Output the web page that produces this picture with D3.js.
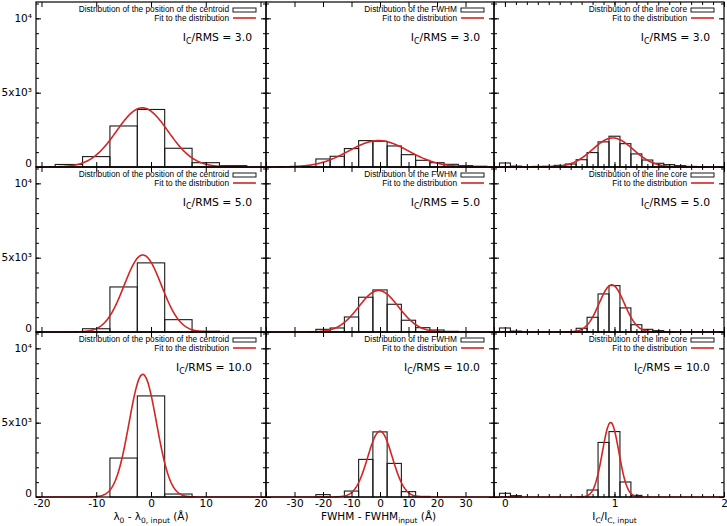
<!DOCTYPE html>
<html>
<head>
<meta charset="utf-8">
<script src="https://cdn.jsdelivr.net/npm/d3@7"></script>
<style>
  body { margin: 0; background: #fff; }
  text { font-family: "DejaVu Sans", sans-serif; fill: #000; }
  .legend { font-family: "Liberation Sans", Arial, sans-serif; font-size: 8.3px; }
</style>
</head>
<body>
<div id="chart"></div>
<script>

// bin centres of the three histograms
var centroidBins = [-15, -10, -5, 0, 5, 10, 15];
var fwhmBins = [-30, -25, -20, -15, -10, -5, 0, 5, 10, 15, 20, 25, 30, 35];
var coreBins = [0.0, 0.1, 0.2, 0.3, 0.4, 0.5, 0.6, 0.7, 0.8, 0.9, 1.0, 1.1, 1.2, 1.3, 1.4, 1.5, 1.6, 1.7, 1.8];

// counts per bin, one row for each I_C/RMS value
var centroidCounts = [
  [170, 700, 2760, 3870, 1260, 290, 90],
  [0, 220, 3030, 4650, 830, 50, 0],
  [0, 0, 2620, 6800, 200, 0, 0]
];
var fwhmCounts = [
  [0, 30, 540, 720, 1240, 1775, 1730, 1415, 830, 450, 290, 180, 90, 50],
  [0, 0, 180, 270, 1010, 2340, 2830, 1865, 790, 290, 135, 45, 0, 0],
  [0, 0, 160, 0, 400, 2530, 4380, 2260, 360, 40, 0, 0, 0, 0]
];
var coreCounts = [
  [270, 60, 20, 40, 50, 110, 200, 490, 970, 1690, 2070, 1570, 880, 470, 250, 160, 90, 40, 20],
  [270, 60, 0, 0, 0, 0, 20, 250, 990, 2560, 3120, 1620, 490, 180, 90, 20, 0, 0, 0],
  [250, 90, 0, 0, 0, 0, 0, 20, 470, 3670, 4400, 1010, 110, 0, 0, 0, 0, 0, 0]
];

// gaussian fits: [amplitude, centre, sigma]
var centroidFit = [[3980, -1.6, 4.7], [5180, -1.5, 3.4], [8250, -1.5, 2.5]];
var fwhmFit = [[1775, -0.5, 10.5], [2790, -0.5, 7.0], [4430, 0, 4.3]];
var coreFit = [[1955, 0.985, 0.185], [3170, 0.975, 0.115], [5010, 0.965, 0.075]];

// signal to noise of each row
var snrLabels = ["3.0", "5.0", "10.0"];

// tick labels
var centroidTicks = [-20, -10, 0, 10, 20];
var fwhmTicks = [-30, -20, -10, 0, 10, 20, 30];
var coreTicks = [0, 1, 2];
var yTickLabels = ["0", "5x10³", "10⁴"];
var yTickValues = [0, 5000, 10000];

// layout of the 3x3 grid
var width = 727, height = 526;
var colLeft = [36, 266, 494], colWidth = [230, 228, 230];
var rowTop = [2, 167, 332], rowHeight = 165;
var red = "#d42424";

var columns = [
  {bins: centroidBins, counts: centroidCounts, fit: centroidFit, binWidth: 5,
   domain: [-21, 21], ticks: d3.range(-20, 21, 10), minor: [], labels: centroidTicks,
   legend: "Distribution of the position of the centroid"},
  {bins: fwhmBins, counts: fwhmCounts, fit: fwhmFit, binWidth: 5,
   domain: [-40, 40], ticks: d3.range(-40, 41, 10), minor: [], labels: fwhmTicks,
   legend: "Distribution of the FWHM"},
  {bins: coreBins, counts: coreCounts, fit: coreFit, binWidth: 0.1,
   domain: [-0.1, 2], ticks: coreTicks, minor: d3.range(-1, 21).map(function(d) { return d / 10; }),
   labels: coreTicks, legend: "Distribution of the line core"}
];

var svg = d3.select("#chart")
    .append("svg")
    .attr("width", width)
    .attr("height", height);

for (var r = 0; r < 3; r++) {
  for (var c = 0; c < 3; c++) {
    drawPanel(columns[c], r, c);
  }
}

// axis titles under the bottom row
var titleY = 520;
var xs0 = d3.scaleLinear().domain(columns[0].domain).range([colLeft[0], colLeft[0] + colWidth[0]]);
var xs1 = d3.scaleLinear().domain(columns[1].domain).range([colLeft[1], colLeft[1] + colWidth[1]]);
var xs2 = d3.scaleLinear().domain(columns[2].domain).range([colLeft[2], colLeft[2] + colWidth[2]]);

var t0 = svg.append("text").attr("x", xs0(0)).attr("y", titleY).attr("text-anchor", "middle").attr("font-size", "10.5px");
t0.append("tspan").text("λ");
t0.append("tspan").attr("dy", 3).attr("font-size", "7.5px").text("0");
t0.append("tspan").attr("dy", -3).text(" - λ");
t0.append("tspan").attr("dy", 3).attr("font-size", "7.5px").text("0, input");
t0.append("tspan").attr("dy", -3).text(" (Å)");

var t1 = svg.append("text").attr("x", xs1(-0.5)).attr("y", titleY).attr("text-anchor", "middle").attr("font-size", "10.5px");
t1.append("tspan").text("FWHM - FWHM");
t1.append("tspan").attr("dy", 3).attr("font-size", "7.5px").text("input");
t1.append("tspan").attr("dy", -3).text(" (Å)");

var t2 = svg.append("text").attr("x", xs2(1)).attr("y", titleY).attr("text-anchor", "middle").attr("font-size", "10.5px");
t2.append("tspan").text("I");
t2.append("tspan").attr("dy", 3).attr("font-size", "7.5px").text("C");
t2.append("tspan").attr("dy", -3).text("/I");
t2.append("tspan").attr("dy", 3).attr("font-size", "7.5px").text("C, input");

function drawPanel(col, r, c) {

  var x0 = colLeft[c], w = colWidth[c];
  var y0 = rowTop[r], h = rowHeight;

  var xScale = d3.scaleLinear()
      .domain(col.domain)
      .range([x0, x0 + w]);

  var yScale = d3.scaleLinear()
      .domain([0, 11100])
      .range([y0 + h, y0]);

  var g = svg.append("g");

  // clip the marks to the panel
  var clipId = "clip" + r + c;
  g.append("clipPath")
      .attr("id", clipId)
    .append("rect")
      .attr("x", x0)
      .attr("y", y0)
      .attr("width", w)
      .attr("height", h + 2);

  var marks = g.append("g").attr("clip-path", "url(#" + clipId + ")");

  // histogram bars
  var bars = col.bins.map(function(b, i) { return {bin: b, count: col.counts[r][i]}; })
      .filter(function(d) { return d.count > 0; });

  marks.selectAll("rect.bar")
      .data(bars)
      .enter()
      .append("rect")
      .attr("class", "bar")
      .attr("x", function(d) { return xScale(d.bin - col.binWidth / 2); })
      .attr("width", function(d) { return xScale(d.bin + col.binWidth / 2) - xScale(d.bin - col.binWidth / 2); })
      .attr("y", function(d) { return yScale(d.count); })
      .attr("height", function(d) { return yScale(0) - yScale(d.count); })
      .style("fill", "none")
      .style("stroke", "#1a1a1a")
      .style("stroke-width", 1.1);

  // gaussian fit
  var fit = col.fit[r];
  var step = (col.domain[1] - col.domain[0]) / 400;
  var fitX = d3.range(col.domain[0], col.domain[1] + step / 2, step);
  var line = d3.line()
      .x(function(d) { return xScale(d); })
      .y(function(d) { return yScale(fit[0] * Math.exp(-Math.pow(d - fit[1], 2) / (2 * fit[2] * fit[2]))); });

  // panel frame
  g.append("rect")
      .attr("x", x0)
      .attr("y", y0)
      .attr("width", w)
      .attr("height", h)
      .style("fill", "none")
      .style("stroke", "#000")
      .style("stroke-width", 1.2);

  marks.append("path")
      .datum(fitX)
      .attr("d", line)
      .style("fill", "none")
      .style("stroke", red)
      .style("stroke-width", 1.6);

  // x ticks pointing inward, bottom and top
  var xBottom = d3.axisBottom(xScale).tickValues(col.ticks).tickSize(-5).tickFormat("");
  var xTop = d3.axisTop(xScale).tickValues(col.ticks).tickSize(-5).tickFormat("");
  g.append("g").attr("transform", "translate(0," + (y0 + h) + ")").call(xBottom);
  g.append("g").attr("transform", "translate(0," + y0 + ")").call(xTop);
  if (col.minor.length) {
    g.append("g").attr("transform", "translate(0," + (y0 + h) + ")")
        .call(d3.axisBottom(xScale).tickValues(col.minor).tickSize(-3).tickFormat(""));
    g.append("g").attr("transform", "translate(0," + y0 + ")")
        .call(d3.axisTop(xScale).tickValues(col.minor).tickSize(-3).tickFormat(""));
  }

  // y ticks pointing inward on both sides
  var minorY = d3.range(0, 11001, 1000);
  g.append("g").attr("transform", "translate(" + x0 + ",0)")
      .call(d3.axisLeft(yScale).tickValues(minorY).tickSize(-3).tickFormat(""));
  g.append("g").attr("transform", "translate(" + (x0 + w) + ",0)")
      .call(d3.axisRight(yScale).tickValues(minorY).tickSize(-3).tickFormat(""));
  g.append("g").attr("transform", "translate(" + x0 + ",0)")
      .call(d3.axisLeft(yScale).tickValues(yTickValues).tickSize(-5).tickFormat(""));
  g.append("g").attr("transform", "translate(" + (x0 + w) + ",0)")
      .call(d3.axisRight(yScale).tickValues(yTickValues).tickSize(-5).tickFormat(""));

  g.selectAll(".domain").remove();
  g.selectAll(".tick line").style("stroke", "#000");

  // y tick labels only on the left column; the zero label sits a bit higher
  if (c == 0) {
    g.selectAll("text.ylab")
        .data(yTickValues)
        .enter()
        .append("text")
        .attr("class", "ylab")
        .attr("x", x0 - 4)
        .attr("y", function(d) { return yScale(d) - (d == 0 ? 3.5 : 0); })
        .attr("dy", "0.35em")
        .attr("text-anchor", "end")
        .attr("font-size", "10.5px")
        .text(function(d, i) { return yTickLabels[i]; });
  }

  // x tick labels only on the bottom row
  if (r == 2) {
    g.append("g").attr("transform", "translate(0," + (y0 + h) + ")")
        .call(d3.axisBottom(xScale).tickValues(col.labels).tickSize(0).tickPadding(2.5)
              .tickFormat(function(d) { return String(d); }))
        .call(function(a) { a.select(".domain").remove(); })
        .selectAll("text")
        .attr("font-size", "10.5px")
        .attr("font-family", "DejaVu Sans, sans-serif")
        .style("fill", "#000");
  }

  // legend
  var right = x0 + w;
  g.append("text")
      .attr("class", "legend")
      .attr("x", right - 37)
      .attr("y", y0 + 10)
      .attr("text-anchor", "end")
      .text(col.legend);
  g.append("rect")
      .attr("x", right - 33)
      .attr("y", y0 + 6)
      .attr("width", 23)
      .attr("height", 4)
      .style("fill", "#fff")
      .style("stroke", "#1a1a1a")
      .style("stroke-width", 1);
  g.append("text")
      .attr("class", "legend")
      .attr("x", right - 37)
      .attr("y", y0 + 18.5)
      .attr("text-anchor", "end")
      .text("Fit to the distribution");
  g.append("line")
      .attr("x1", right - 33)
      .attr("x2", right - 10)
      .attr("y1", y0 + 16)
      .attr("y2", y0 + 16)
      .style("stroke", red)
      .style("stroke-width", 1.6);

  // I_C/RMS label
  var snr = g.append("text")
      .attr("x", right - 14)
      .attr("y", y0 + 39)
      .attr("text-anchor", "end")
      .attr("font-size", "10.8px");
  snr.append("tspan").text("I");
  snr.append("tspan").attr("dy", 3).attr("font-size", "8px").text("C");
  snr.append("tspan").attr("dy", -3).text("/RMS = " + snrLabels[r]);
}

</script>
</body>
</html>
